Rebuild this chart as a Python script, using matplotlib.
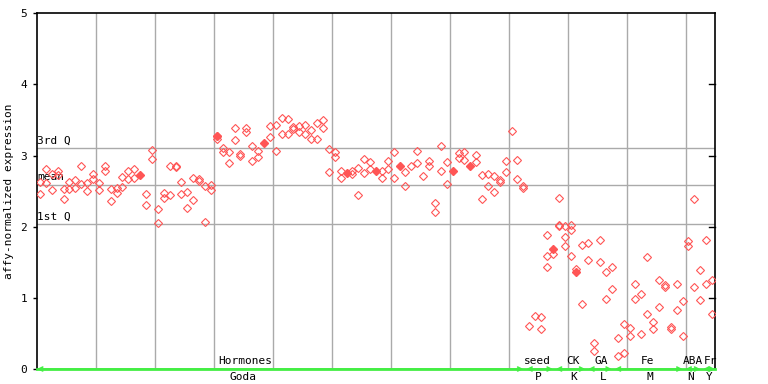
import numpy as np
import matplotlib
matplotlib.use("Agg")
import matplotlib.pyplot as plt

nan = np.nan
# expression values per sample column (up to three replicates)
rep1 = [2.63, 2.81, 2.74, 2.78, 2.53, 2.63, 2.65, 2.86, 2.62, 2.74,
        2.61, 2.86, 2.53, 2.54, 2.70, 2.78, 2.81, nan, 2.46, 3.08,
        2.25, 2.47, 2.86, 2.86, 2.63, 2.49, 2.68, 2.67, 2.57, 2.58,
        3.28, 3.10, 3.05, 3.39, 3.02, 3.39, 3.13, 3.06, nan, 3.41,
        3.43, 3.53, 3.51, 3.40, 3.41, 3.43, 3.36, 3.46, 3.50, 3.09,
        3.05, 2.78, nan, 2.78, 2.82, 2.95, 2.91, nan, 2.79, 2.92,
        3.05, nan, 2.77, 2.85, 3.06, 2.71, 2.93, 2.34, 3.13, 2.91,
        nan, 3.03, 3.05, nan, 3.01, 2.72, 2.74, 2.71, 2.65, 2.92,
        3.34, 2.94, 2.57, 0.60, 0.74, 0.73, 1.89, 1.61, 2.40, 2.01,
        2.02, 1.40, 1.75, 1.77, 0.36, 1.82, 1.36, 1.43, 0.43, 0.63,
        0.57, 1.19, 1.05, 1.57, 0.66, 1.25, 1.18, 0.59, 1.19, 0.95,
        1.80, 2.39, 1.39, 1.82, 1.25]
rep2 = [2.46, 2.61, 2.52, 2.73, 2.39, 2.53, 2.55, 2.60, 2.50, 2.67,
        2.51, 2.79, 2.36, 2.47, 2.56, 2.67, 2.68, nan, 2.30, 2.95,
        2.05, 2.40, 2.44, 2.84, 2.46, 2.27, 2.38, 2.64, 2.07, 2.51,
        3.24, 3.05, 2.89, 3.22, 3.00, 3.33, 2.92, 2.98, nan, 3.26,
        3.06, 3.30, 3.30, 3.37, 3.33, 3.31, 3.23, 3.24, 3.39, 2.77,
        2.98, 2.68, nan, 2.74, 2.44, 2.75, 2.81, nan, 2.68, 2.81,
        2.68, nan, 2.57, nan, 2.89, nan, 2.86, 2.20, 2.79, 2.60,
        nan, 2.96, 2.94, nan, 2.91, 2.39, 2.57, 2.49, 2.63, 2.77,
        nan, 2.67, 2.54, nan, nan, 0.56, 1.59, nan, 2.03, 1.85,
        1.96, nan, 0.92, 1.53, 0.25, 1.50, 0.99, 1.13, 0.18, 0.22,
        0.47, 0.99, 0.49, 0.78, 0.56, 0.87, 1.15, 0.56, 0.83, 0.47,
        1.73, 1.15, 0.97, 1.19, 0.78]
rep3_idx = [86, 88, 89, 90]
rep3_val = [1.43, 2.01, 1.73, 1.59]
filled_idx = [17, 30, 38, 52, 57, 61, 70, 73, 87, 91]
filled_val = [2.73, 3.28, 3.18, 2.75, 2.79, 2.85, 2.78, 2.85, 1.68, 1.37]

q3, mean_v, q1 = 3.10, 2.585, 2.035
grid_x = [10, 20, 30, 40, 50, 60, 70, 80, 90, 100, 110]
y_ticks = [0, 1, 2, 3, 4, 5]

# experiment groups
grp_top = ["Hormones", "seed", "CK", "GA", "Fe", "ABA", "Fr"]
grp_bot = ["Goda", "P", "K", "L", "M", "N", "Y"]
grp_top_x = [35.3, 84.8, 90.9, 95.7, 103.6, 111.3, 114.3]
grp_bot_x = [35.0, 85.0, 91.1, 96.0, 104.0, 110.9, 114.0]
grp_start = [0.0, 83.0, 88.0, 93.5, 98.0, 110.0, 113.0]
grp_end = [82.5, 87.5, 93.0, 97.5, 109.5, 112.5, 115.0]

n = len(rep1)
FONT = "DejaVu Sans Mono"
RED = "#ff5555"
GREEN = "#44ee44"
GRID = "#aaaaaa"

fig = plt.figure(figsize=(7.68, 3.84), dpi=100)
ax = fig.add_axes([37 / 768, 15 / 384, 678 / 768, 355.7 / 384])
ax.set_xlim(0, n)
ax.set_ylim(0, 5)

for gx in grid_x:
    ax.axvline(gx, color=GRID, lw=1.0, zorder=1)
for qv, lab in [(q3, "3rd Q"), (mean_v, "mean"), (q1, "1st Q")]:
    ax.axhline(qv, color=GRID, lw=1.0, zorder=1)
    ax.text(0.0, qv + 0.04, lab, fontsize=8, family=FONT, ha="left",
            va="bottom", zorder=3)

x = np.arange(n) + 0.5
for ys in (rep1, rep2):
    ax.plot(x, ys, ls="none", marker="D", ms=4.0, mfc="none", mec=RED,
            mew=0.8, zorder=4)
ax.plot(np.array(rep3_idx) + 0.5, rep3_val, ls="none", marker="D", ms=4.0,
        mfc="none", mec=RED, mew=0.8, zorder=4)
ax.plot(np.array(filled_idx) + 0.5, filled_val, ls="none", marker="D",
        ms=4.0, color=RED, zorder=5)

# bottom green group line and arrows
ax.plot([0, n], [0, 0], color=GREEN, lw=2, clip_on=False, zorder=6)
for s, e in zip(grp_start, grp_end):
    ax.annotate("", xy=(e, 0), xytext=(s, 0),
                arrowprops=dict(arrowstyle="<->", color=GREEN, lw=1.2,
                                shrinkA=0, shrinkB=0, mutation_scale=7),
                annotation_clip=False, zorder=7)
for t, tx in zip(grp_top, grp_top_x):
    ax.text(tx, 0.04, t, fontsize=8, family=FONT, ha="center", va="bottom",
            zorder=8, clip_on=False)
for t, tx in zip(grp_bot, grp_bot_x):
    ax.text(tx, -0.04, t, fontsize=8, family=FONT, ha="center", va="top",
            zorder=8, clip_on=False)

ax.set_xticks([])
ax.set_yticks(y_ticks)
ax.set_yticklabels([str(v) for v in y_ticks], family=FONT, fontsize=8)
ax.tick_params(axis="y", left=True, right=False, direction="out",
               length=3, width=1, pad=4)
for side in ["left", "right", "top"]:
    ax.spines[side].set_color("black")
    ax.spines[side].set_linewidth(1.2)
ax.spines["bottom"].set_visible(False)

# right-side inward ticks
for v in [1, 2, 3, 4]:
    ax.plot([n - 1.0, n], [v, v], color="black", lw=1, clip_on=False, zorder=2)

ax.set_ylabel("affy-normalized expression", family=FONT, fontsize=8)
ax.yaxis.set_label_coords(-23 / 678, 0.5)

fig.savefig("out.png", dpi=100)
